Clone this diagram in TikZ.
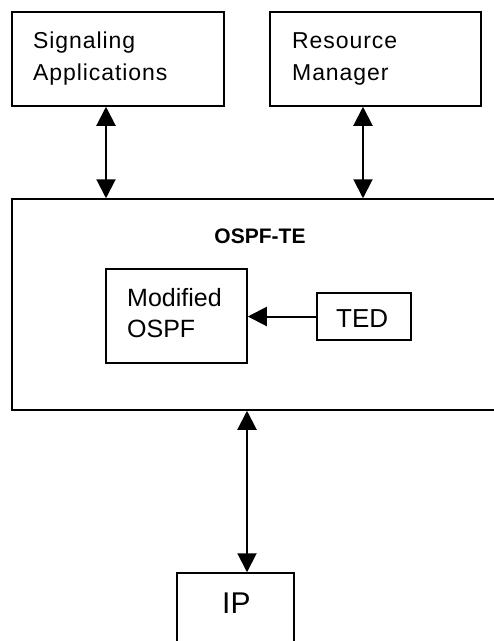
\documentclass[tikz,border=0pt]{standalone}
\usepackage{fontspec}
\setmainfont{Liberation Sans}
\usetikzlibrary{arrows.meta}
\tikzset{
  box/.style={draw=black, line width=1.5pt, rectangle, inner sep=0pt, fill=none},
  lbl/.style={anchor=base west, inner sep=0pt, font=\fontsize{23}{27}\selectfont\addfontfeatures{LetterSpace=4}},
  lblb/.style={anchor=base west, inner sep=0pt, font=\fontsize{25}{30}\selectfont},
  conn/.style={line width=2pt, {Triangle[width=19pt,length=19pt]}-{Triangle[width=19pt,length=19pt]}},
  oneway/.style={line width=2pt, -{Triangle[width=19pt,length=19pt]}}
}
\begin{document}
\begin{tikzpicture}[x=1pt,y=-1pt]
\fill[white] (0,0) rectangle (494,641);
\clip (0,0) rectangle (494,641);
\useasboundingbox (0,0) rectangle (494,641);
% boxes
\node[box, minimum width=212pt, minimum height=94pt] (sig) at (118,59) {};
\node[box, minimum width=211pt, minimum height=94pt] (res) at (375.5,59) {};
\node[box, minimum width=498pt, minimum height=211pt] (big) at (261,304.5) {};
\node[box, minimum width=141pt, minimum height=94pt] (mod) at (176.5,316) {};
\node[box, minimum width=94pt, minimum height=47pt] (ted) at (364,316.5) {};
\node[box, minimum width=117pt, minimum height=97pt] (ip) at (235.5,621.5) {};
% texts
\node[lbl] (sig1) at (33,48) {Signaling};
\node[lbl] (sig2) at (33,80) {Applications};
\node[lbl] (res1) at (292,48) {Resource};
\node[lbl] (res2) at (292,80) {Manager};
\node[anchor=base, inner sep=0pt, font=\fontsize{21}{25}\selectfont\bfseries] (title) at (260,243) {OSPF-TE};
\node[lblb] (mod1) at (127,306) {Modified};
\node[lblb] (mod2) at (127,337) {OSPF};
\node[anchor=base west, inner sep=0pt, font=\fontsize{26}{30}\selectfont] (tedt) at (336,327) {TED};
\node[anchor=base west, inner sep=0pt, font=\fontsize{30}{34}\selectfont] (ipt) at (222,613) {IP};
% connector x positions
\coordinate (c1) at (106,0);
\coordinate (c2) at (363,0);
\coordinate (c3) at (247,0);
\draw[conn] (sig.south -| c1) -- (big.north -| c1);
\draw[conn] (res.south -| c2) -- (big.north -| c2);
\draw[conn] (big.south -| c3) -- (ip.north -| c3);
\draw[oneway] (ted.west) -- (mod.east |- ted.west);
\end{tikzpicture}
\end{document}
